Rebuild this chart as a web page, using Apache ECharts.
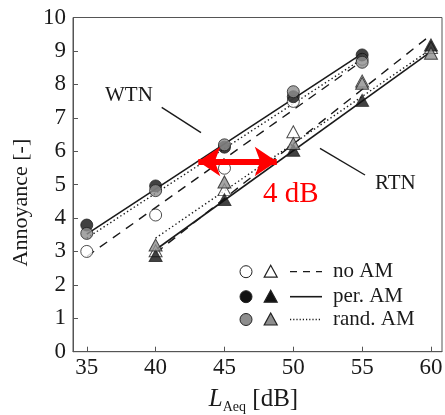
<!DOCTYPE html>
<html>
<head>
<meta charset="utf-8">
<script src="https://cdn.jsdelivr.net/npm/echarts@6/dist/echarts.min.js"></script>
<style>
  html, body { margin: 0; padding: 0; background: #fff; }
  #chart { width: 445px; height: 415px; }
</style>
</head>
<body>
<div id="chart"></div>
<script>
// WTN measured at 35..55 dB, RTN at 40..60 dB
const wtnLevels = [35, 40, 45, 50, 55]
const rtnLevels = [40, 45, 50, 55, 60]

const wtnNoAM = [3.0, 4.09, 5.49, 7.49, 8.75]
const wtnPerAM = [3.79, 4.96, 6.12, 7.63, 8.88]
const wtnRandAM = [3.54, 4.82, 6.19, 7.78, 8.66]

const rtnNoAM = [3.02, 4.85, 6.58, 8.1, 9.1]
const rtnPerAM = [2.88, 4.55, 6.03, 7.52, 9.18]
const rtnRandAM = [3.19, 5.08, 6.23, 8.03, 8.93]

// regression line end points [x, y]
const wtnNoAMFit = [[35, 2.85], [55, 8.7]]
const wtnPerAMFit = [[35, 3.52], [55, 8.92]]
const wtnRandAMFit = [[35, 3.4], [55, 8.76]]
const rtnNoAMFit = [[40, 2.95], [60, 9.48]]
const rtnPerAMFit = [[40, 3.05], [60, 8.98]]
const rtnRandAMFit = [[40, 3.4], [60, 9.05]]

// 4 dB shift arrow
const shiftArrow = [[43.1, 5.69], [48.8, 5.69]]

const xTicks = [35, 40, 45, 50, 55, 60]
const legendLabels = ['no AM', 'per. AM', 'rand. AM']

const serif = 'Liberation Serif'
const black = '#111'
const grey = '#8e8e8e'

const pair = (xs, ys) => xs.map((x, i) => [x, ys[i]])

const fitLine = (data, type) => ({
  type: 'line',
  data,
  symbol: 'none',
  silent: true,
  z: 2,
  lineStyle: {
    color: '#1a1a1a',
    width: type === 'solid' ? 1.6 : 1.4,
    type: type === 'dashed' ? [9, 7] : type === 'dotted' ? [1.4, 2.6] : 'solid'
  }
})

const points = (data, symbol, fill, z) => ({
  type: 'scatter',
  data,
  symbol,
  symbolSize: symbol === 'circle' ? 12 : [13, 12],
  z,
  itemStyle: { color: fill, borderColor: '#222', borderWidth: 1 }
})

const chart = echarts.init(document.getElementById('chart'))

// legend drawn by hand: circle, triangle, line sample, text
const legendRows = [271.7, 296.7, 319.5]
const legendFill = ['#fff', black, grey]
const legendDash = [[7, 6], null, [1.2, 2]]
const legendGraphics = []
legendRows.forEach((y, i) => {
  legendGraphics.push({
    type: 'circle', shape: { cx: 246, cy: y, r: 6 },
    style: { fill: legendFill[i], stroke: '#222', lineWidth: 1 }
  })
  legendGraphics.push({
    type: 'polygon', shape: { points: [[270.7, y - 6.5], [277.2, y + 5.5], [264.2, y + 5.5]] },
    style: { fill: legendFill[i], stroke: '#222', lineWidth: 1.2 }
  })
  legendGraphics.push({
    type: 'line', shape: { x1: 290, y1: y, x2: 322, y2: y },
    style: { stroke: '#1a1a1a', lineWidth: i === 1 ? 1.6 : 1.3, lineDash: legendDash[i] }
  })
  legendGraphics.push({
    type: 'text', left: 333, top: y - 11,
    style: { text: legendLabels[i], font: '21px "Liberation Serif"', fill: '#1a1a1a' }
  })
})

chart.setOption({
  animation: false,
  grid: {
    left: 73, right: 3, top: 17.5, bottom: 63.3,
    outerBoundsMode: 'none',
    containLabel: false,
    show: true, borderColor: '#555', borderWidth: 1
  },
  xAxis: {
    type: 'value',
    min: 34,
    max: 60.8,
    name: '{i|L}{s|Aeq}{n| [dB]}',
    nameLocation: 'middle',
    nameGap: 33,
    nameTextStyle: {
      padding: [0, 8, 0, 0],
      rich: {
        i: { fontFamily: serif, fontSize: 25, fontStyle: 'italic', color: '#1a1a1a' },
        s: { fontFamily: serif, fontSize: 14, color: '#1a1a1a', padding: [16, 0, 0, 0] },
        n: { fontFamily: serif, fontSize: 25, color: '#1a1a1a' }
      }
    },
    splitLine: { show: false },
    axisLine: { onZero: false, lineStyle: { color: '#555', width: 1 } },
    axisTick: { inside: true, length: 5, customValues: xTicks, lineStyle: { color: '#555' } },
    axisLabel: { customValues: xTicks, fontFamily: serif, fontSize: 23, color: '#1a1a1a', margin: 5 }
  },
  yAxis: {
    type: 'value',
    min: 0,
    max: 10,
    interval: 1,
    name: 'Annoyance [-]',
    nameLocation: 'middle',
    nameGap: 40,
    nameTextStyle: { fontFamily: serif, fontSize: 22, color: '#1a1a1a', padding: [0, 36, 0, 0] },
    splitLine: { show: false },
    axisLine: { lineStyle: { color: '#555', width: 1 } },
    axisTick: { inside: true, length: 5, lineStyle: { color: '#555' } },
    axisLabel: { fontFamily: serif, fontSize: 23, color: '#1a1a1a', margin: 7 }
  },
  series: [
    fitLine(wtnNoAMFit, 'dashed'),
    fitLine(wtnPerAMFit, 'solid'),
    fitLine(wtnRandAMFit, 'dotted'),
    fitLine(rtnNoAMFit, 'dashed'),
    fitLine(rtnPerAMFit, 'solid'),
    Object.assign(fitLine(rtnRandAMFit, 'dotted'), {
      markLine: {
        silent: true,
        symbol: ['arrow', 'arrow'],
        symbolSize: [22, 22],
        label: { show: false },
        lineStyle: { color: '#ff0000', width: 6, type: 'solid' },
        data: [[{ coord: shiftArrow[0] }, { coord: shiftArrow[1] }]],
        z: 6
      }
    }),
    points(pair(wtnLevels, wtnNoAM), 'circle', '#fff', 3),
    points(pair(wtnLevels, wtnPerAM), 'circle', black, 4),
    points(pair(wtnLevels, wtnRandAM), 'circle', grey, 5),
    points(pair(rtnLevels, rtnNoAM), 'triangle', '#fff', 3),
    points(pair(rtnLevels, rtnPerAM), 'triangle', black, 4),
    points(pair(rtnLevels, rtnRandAM), 'triangle', grey, 5)
  ],
  graphic: [
    {
      type: 'text', left: 105, top: 85,
      style: { text: 'WTN', font: '21px "Liberation Serif"', fill: '#1a1a1a' }
    },
    { type: 'line', shape: { x1: 161.7, y1: 107.3, x2: 201, y2: 132.7 }, style: { stroke: '#1a1a1a', lineWidth: 1.4 } },
    {
      type: 'text', left: 375, top: 173,
      style: { text: 'RTN', font: '21px "Liberation Serif"', fill: '#1a1a1a' }
    },
    { type: 'line', shape: { x1: 320, y1: 148.3, x2: 365, y2: 175 }, style: { stroke: '#1a1a1a', lineWidth: 1.4 } },
    {
      type: 'text', left: 263, top: 180,
      style: { text: '4 dB', font: '29px "Liberation Serif"', fill: '#ff0000' }
    }
  ].concat(legendGraphics)
})
</script>
</body>
</html>
